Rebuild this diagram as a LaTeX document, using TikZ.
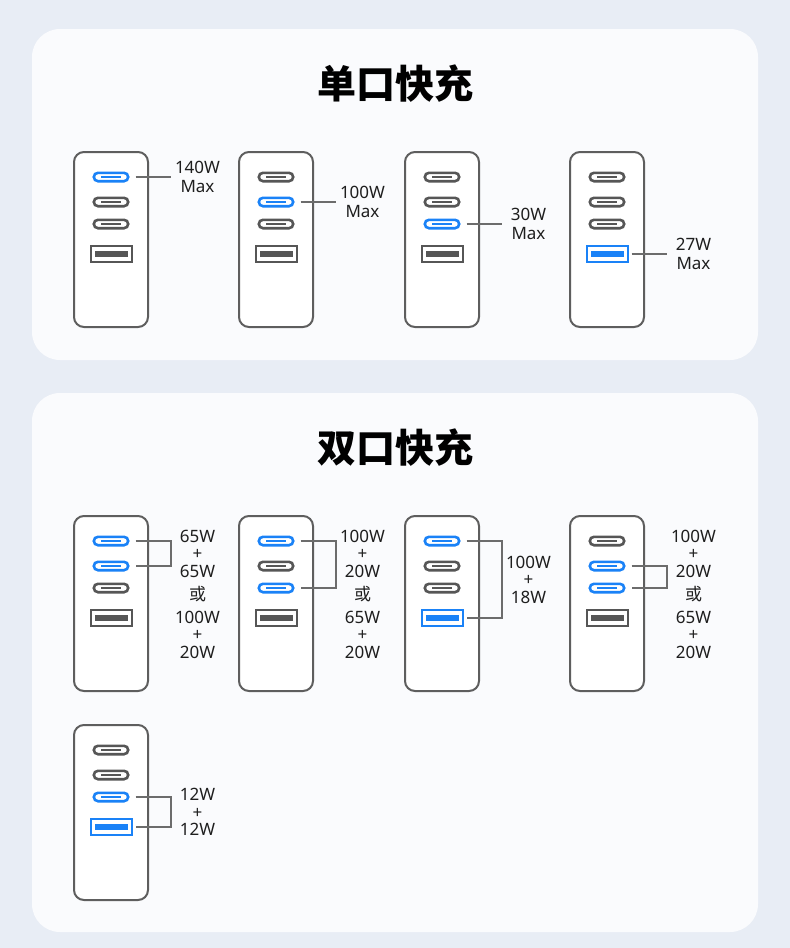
\documentclass[tikz,border=0pt]{standalone}
\usepackage{fontspec}
\setmainfont{Noto Sans}
\newfontfamily\cjk{Noto Sans CJK SC}
\usetikzlibrary{positioning}
\definecolor{bg}{HTML}{E8EDF5}
\definecolor{panel}{HTML}{FAFBFD}
\definecolor{hi}{HTML}{1A82F7}
\definecolor{lo}{HTML}{565656}
\definecolor{edge}{HTML}{5E5E5E}
\definecolor{ink}{HTML}{1E1E1E}

\begin{document}
\begin{tikzpicture}[x=1pt, y=-1pt,
	every node/.style={font=\fontsize{17}{17.5}\selectfont, text=ink},
	title/.style={font=\cjk\bfseries\fontsize{39}{39}\selectfont, text=black},
	unit/.style={draw=edge, line width=2pt, fill=white, rounded corners=10pt, minimum width=74pt, minimum height=175pt, outer sep=0pt, anchor=north west},
	cport/.style={draw=#1, line width=2.6pt, fill=white, rounded corners=4.2pt, minimum width=34.4pt, minimum height=8.4pt, inner sep=0pt,
		path picture={\draw[#1, line width=1.8pt] ([xshift=-10pt]path picture bounding box.center) -- ([xshift=10pt]path picture bounding box.center);}},
	uport/.style={draw=#1, line width=2pt, fill=white, minimum width=41pt, minimum height=15.5pt, inner sep=0pt,
		path picture={\fill[#1] ([xshift=-16.5pt,yshift=-3pt]path picture bounding box.center) rectangle ([xshift=16.5pt,yshift=3pt]path picture bounding box.center);}},
	leader/.style={draw=gray!85!black, line width=1.3pt},
	watt/.style={align=center, inner sep=0pt},
	maxlab/.style={watt, font=\fontsize{17}{19}\selectfont}]
	\useasboundingbox (0,0) rectangle (790,948);
	\fill[bg] (0,0) rectangle (790,948);
	\fill[panel, rounded corners=28pt] (32,29) rectangle (758,360);
	\fill[panel, rounded corners=28pt] (32,393) rectangle (758,932);
	\node[title] (t1) at (395,84) {单口快充};
	\node[title] (t2) at (395,448) {双口快充};
	% chargers: name / left / top / port colours
	\foreach \n/\x/\y/\pa/\pb/\pc/\pu in {a1/74/152/hi/lo/lo/lo, a2/239/152/lo/hi/lo/lo, a3/405/152/lo/lo/hi/lo, a4/570/152/lo/lo/lo/hi,
		b1/74/516/hi/hi/lo/lo, b2/239/516/hi/lo/hi/lo, b3/405/516/hi/lo/lo/hi, b4/570/516/lo/hi/hi/lo, b5/74/725/lo/lo/hi/hi} {
		\node[unit] (\n) at (\x,\y) {};
		\node[cport=\pa] (\n-c1) at ([yshift=-25pt]\n.north) {};
		\node[cport=\pb] (\n-c2) at ([yshift=-50pt]\n.north) {};
		\node[cport=\pc] (\n-c3) at ([yshift=-72pt]\n.north) {};
		\node[uport=\pu] (\n-u) at ([yshift=-102pt]\n.north) {};
		\coordinate (\n-k) at ([xshift=23pt]\n.east);
		\coordinate (\n-m) at ([xshift=49.5pt]\n.north east);
	}
	% single port
	\draw[leader] ([xshift=6pt]a1-c1.east) -- (a1-c1 -| a1-k);
	\node[maxlab] (a1-l) at (a1-m |- a1-c1) {140W\\Max};
	\draw[leader] ([xshift=6pt]a2-c2.east) -- (a2-c2 -| a2-k);
	\node[maxlab] (a2-l) at (a2-m |- a2-c2) {100W\\Max};
	\draw[leader] ([xshift=6pt]a3-c3.east) -- (a3-c3 -| a3-k);
	\node[maxlab] (a3-l) at (a3-m |- a3-c3) {30W\\Max};
	\draw[leader] ([xshift=3pt]a4-u.east) -- (a4-u -| a4-k);
	\node[maxlab] (a4-l) at (a4-m |- a4-u) {27W\\Max};
	% two ports
	\draw[leader] ([xshift=6pt]b1-c1.east) -- (b1-c1 -| b1-k) -- (b1-c2 -| b1-k) -- ([xshift=6pt]b1-c2.east);
	\node[watt] (b1-l) at ([yshift=-78pt]b1-m) {65W\\+\\65W\\[5.5pt]{\cjk 或}\\[5.5pt]100W\\+\\20W};
	\draw[leader] ([xshift=6pt]b2-c1.east) -- (b2-c1 -| b2-k) -- (b2-c3 -| b2-k) -- ([xshift=6pt]b2-c3.east);
	\node[watt] (b2-l) at ([yshift=-78pt]b2-m) {100W\\+\\20W\\[5.5pt]{\cjk 或}\\[5.5pt]65W\\+\\20W};
	\draw[leader] ([xshift=6pt]b3-c1.east) -- (b3-c1 -| b3-k) -- (b3-u -| b3-k) -- ([xshift=3pt]b3-u.east);
	\node[watt] (b3-l) at ([yshift=-63.5pt]b3-m) {100W\\+\\18W};
	\draw[leader] ([xshift=6pt]b4-c2.east) -- (b4-c2 -| b4-k) -- (b4-c3 -| b4-k) -- ([xshift=6pt]b4-c3.east);
	\node[watt] (b4-l) at ([yshift=-78pt]b4-m) {100W\\+\\20W\\[5.5pt]{\cjk 或}\\[5.5pt]65W\\+\\20W};
	\draw[leader] ([xshift=6pt]b5-c3.east) -- (b5-c3 -| b5-k) -- (b5-u -| b5-k) -- ([xshift=3pt]b5-u.east);
	\node[watt] (b5-l) at ([yshift=-87pt]b5-m) {12W\\+\\12W};
\end{tikzpicture}
\end{document}
